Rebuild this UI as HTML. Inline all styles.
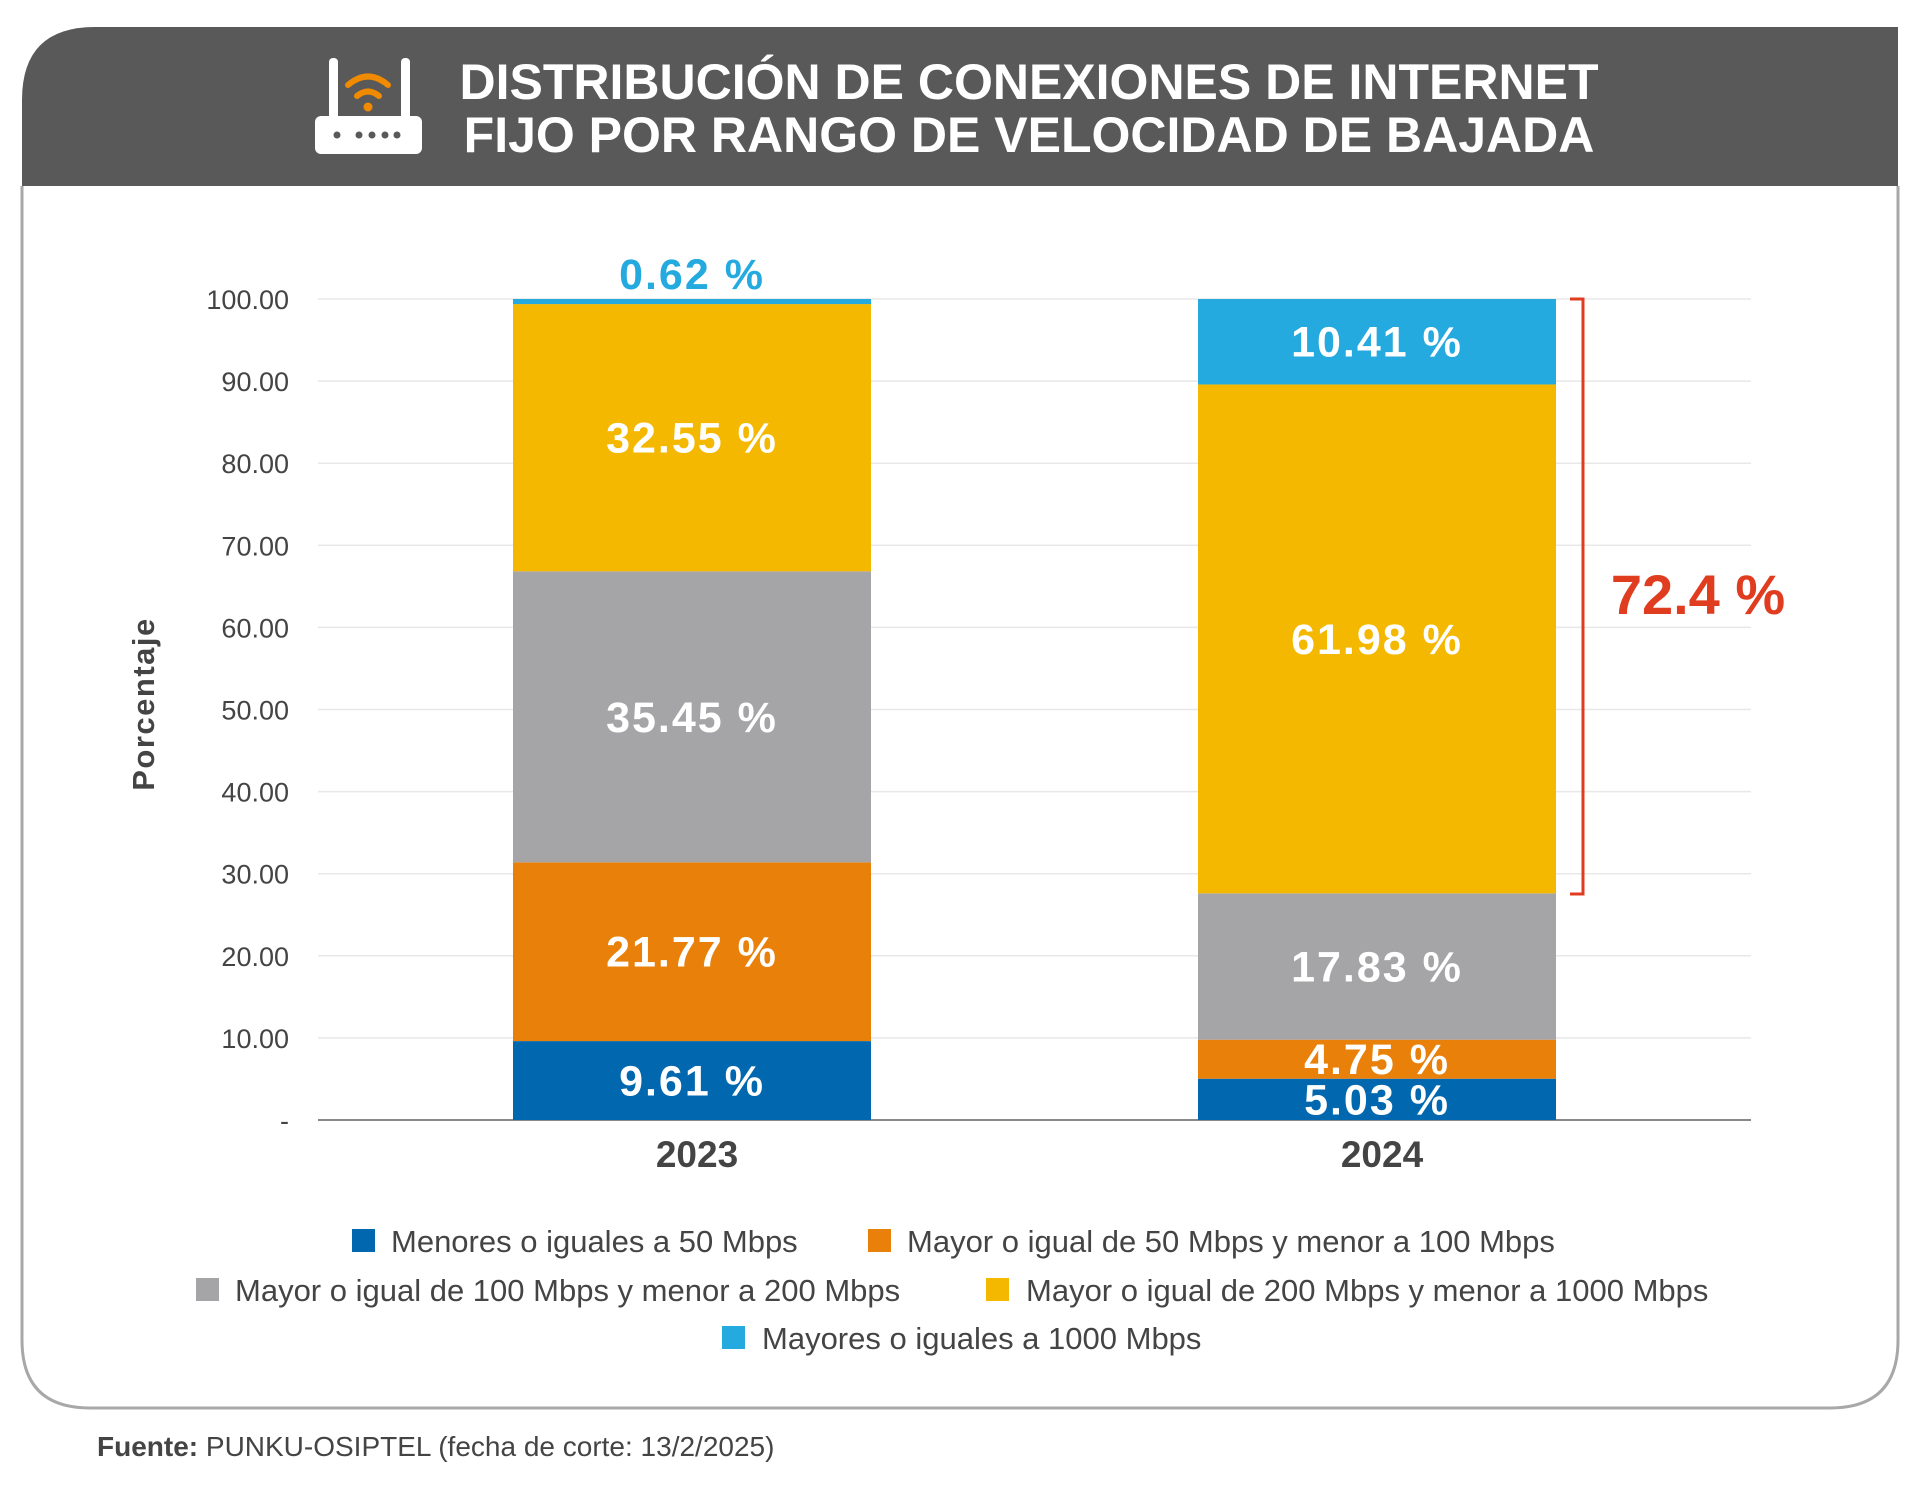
<!DOCTYPE html>
<html><head><meta charset="utf-8">
<style>
html,body{margin:0;padding:0;background:#fff;}
body{width:1920px;height:1500px;position:relative;overflow:hidden;font-family:"Liberation Sans",sans-serif;}
</style></head>
<body>
<svg id="chart" width="1920" height="1500" xmlns="http://www.w3.org/2000/svg" style="position:absolute;left:0;top:0">
  <path d="M22,186 L22,1340 Q22,1408 90,1408 L1830,1408 Q1898,1408 1898,1340 L1898,186" fill="#fff" stroke="#a8a8a8" stroke-width="3"/>
  <path d="M22,186 L22,100 Q22,27 95,27 L1898,27 L1898,186 Z" fill="#595959"/>
  <g>
    <rect x="329" y="58" width="9" height="64" rx="4" fill="#fff"/>
    <rect x="401" y="58" width="9" height="64" rx="4" fill="#fff"/>
    <rect x="315" y="116" width="107" height="38" rx="6" fill="#fff"/>
    <circle cx="337" cy="135" r="3.5" fill="#595959"/>
    <circle cx="359" cy="135" r="3.5" fill="#595959"/>
    <circle cx="372" cy="135" r="3.5" fill="#595959"/>
    <circle cx="385" cy="135" r="3.5" fill="#595959"/>
    <circle cx="397" cy="135" r="3.5" fill="#595959"/>
    <path d="M348,85 Q368,68 388,85" stroke="#f08a00" stroke-width="6" fill="none" stroke-linecap="round"/>
    <path d="M357,96 Q368,87 379,96" stroke="#f08a00" stroke-width="6" fill="none" stroke-linecap="round"/>
    <circle cx="368" cy="107" r="4.5" fill="#f08a00"/>
  </g>
  <text x="1029" y="99" text-anchor="middle" font-size="50" font-weight="bold" fill="#fff">DISTRIBUCIÓN DE CONEXIONES DE INTERNET</text>
  <text x="1029" y="152" text-anchor="middle" font-size="50" font-weight="bold" fill="#fff">FIJO POR RANGO DE VELOCIDAD DE BAJADA</text>
  <g id="grid"></g>
  <g id="bars"></g>
  <text transform="translate(154,704) rotate(-90)" text-anchor="middle" font-size="31" font-weight="bold" letter-spacing="1.5" fill="#444">Porcentaje</text>
  <path d="M1570,299 L1583,299 L1583,894 L1570,894" stroke="#e03c1f" stroke-width="3" fill="none"/>
  <text x="1698" y="614" text-anchor="middle" font-size="56" font-weight="bold" fill="#e03c1f">72.4 %</text>
  <g font-size="31" fill="#444">
    <rect x="352" y="1229" width="23" height="23" fill="#0168b0"/>
    <text x="391" y="1252">Menores o iguales a 50 Mbps</text>
    <rect x="868" y="1229" width="23" height="23" fill="#e8800a"/>
    <text x="907" y="1252">Mayor o igual de 50 Mbps y menor a 100 Mbps</text>
    <rect x="196" y="1278" width="23" height="23" fill="#a5a5a7"/>
    <text x="235" y="1301">Mayor o igual de 100 Mbps y menor a 200 Mbps</text>
    <rect x="986" y="1278" width="23" height="23" fill="#f5b800"/>
    <text x="1026" y="1301">Mayor o igual de 200 Mbps y menor a 1000 Mbps</text>
    <rect x="722" y="1326" width="23" height="23" fill="#24aadf"/>
    <text x="762" y="1349">Mayores o iguales a 1000 Mbps</text>
  </g>
  <text x="97" y="1456" font-size="28" fill="#444"><tspan font-weight="bold">Fuente:</tspan> PUNKU-OSIPTEL (fecha de corte: 13/2/2025)</text>
</svg>
<script>
const categories = ["2023", "2024"];
const seriesNames = ["lt50", "50-100", "100-200", "200-1000", "gte1000"];
const seriesColors = ["#0168b0", "#e8800a", "#a5a5a7", "#f5b800", "#24aadf"];
const values2023 = [9.61, 21.77, 35.45, 32.55, 0.62];
const values2024 = [5.03, 4.75, 17.83, 61.98, 10.41];
const tickValues = [0, 10, 20, 30, 40, 50, 60, 70, 80, 90, 100];
const tickLabels = ["-", "10.00", "20.00", "30.00", "40.00", "50.00", "60.00", "70.00", "80.00", "90.00", "100.00"];

const NS = "http://www.w3.org/2000/svg";
const plotLeft = 318, plotRight = 1751, yTop = 299, yBottom = 1120;
const barW = 358;
const y = v => yBottom - (v / 100) * (yBottom - yTop);
const x = i => 692 + i * 685;
function mk(tag, attrs, parent) {
  const e = document.createElementNS(NS, tag);
  for (const k in attrs) e.setAttribute(k, attrs[k]);
  parent.appendChild(e);
  return e;
}
const grid = document.getElementById("grid");
tickValues.forEach((t, i) => {
  const l = mk("line", {x1: plotLeft, x2: plotRight, y1: y(t), y2: y(t), stroke: i === 0 ? "#888" : "#e8e8e8", "stroke-width": i === 0 ? 2 : 1.5}, grid);
  
  
  const tx = mk("text", {x: 289, y: y(t) + 10, "text-anchor": "end", "font-size": 27, fill: "#444"}, grid);
  tx.textContent = tickLabels[i];
  
  
});
const bars = document.getElementById("bars");
[values2023, values2024].forEach((vals, ci) => {
  let cum = 0;
  const cx = x(ci);
  vals.forEach((v, si) => {
    const top = y(cum + v), bot = y(cum);
    const r = mk("rect", {x: cx - barW / 2, y: top, width: barW, height: bot - top, fill: seriesColors[si]}, bars);
    
    
    const lab = mk("text", {x: cx, "text-anchor": "middle", "font-size": 43, "font-weight": "bold", "letter-spacing": 2}, bars);
    if (v < 2) {
      lab.setAttribute("y", top - 10);
      lab.setAttribute("fill", "#24aadf");
    } else {
      lab.setAttribute("y", (top + bot) / 2 + 15);
      lab.setAttribute("fill", "#fff");
    }
    lab.textContent = v.toFixed(2) + " %";
    
    
    cum += v;
  });
  const cl = mk("text", {x: cx + 5, y: 1167, "text-anchor": "middle", "font-size": 37, "font-weight": "bold", fill: "#444"}, bars);
  cl.textContent = categories[ci];
  
  
});
</script>
</body></html>
